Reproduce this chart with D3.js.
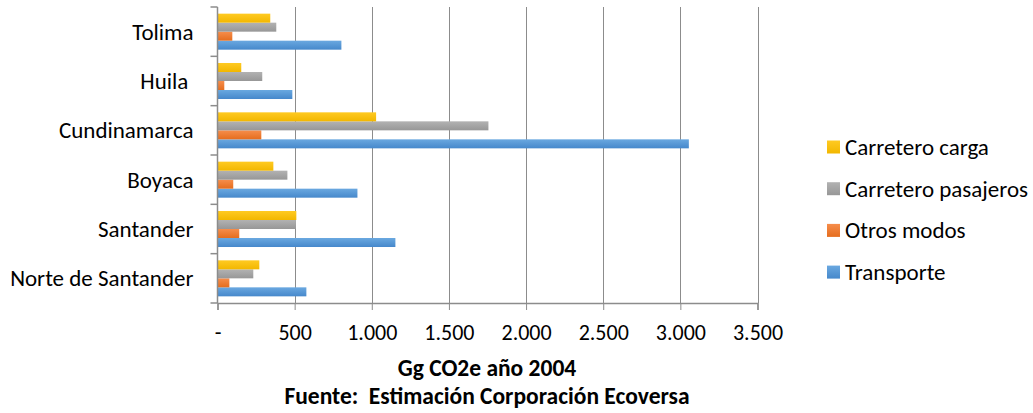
<!DOCTYPE html>
<html><head><meta charset="utf-8">
<script src="https://cdn.jsdelivr.net/npm/d3@7"></script>
<style>body{margin:0;background:#fff}svg{display:block}text{font-family:Carlito,Calibri,Lato,"Open Sans",sans-serif;fill:#000}</style>
</head><body><svg id="c" width="1033" height="413"></svg>
<script>
const categories = ["Norte de Santander","Santander","Boyaca","Cundinamarca","Huila ","Tolima"];
const seriesNames = ["Transporte","Otros modos","Carretero pasajeros","Carretero carga"];
const transporte = [576, 1153, 907, 3055, 485, 803];
const otrosModos = [77, 141, 102, 284, 44, 96];
const carreteroPasajeros = [232, 508, 453, 1756, 290, 381];
const carreteroCarga = [271, 511, 362, 1028, 154, 342];
const xTicks = [0,500,1000,1500,2000,2500,3000,3500];
const xTickLabels = ["-","500","1.000","1.500","2.000","2.500","3.000","3.500"];
const colors = [["#6aa8e0","#4688cb"],["#f68d4b","#e56d1e"],["#b2b2b2","#979797"],["#ffca22","#f2b700"]];
const seriesVals = [transporte, otrosModos, carreteroPasajeros, carreteroCarga];

const svg = d3.select("#c");
const L = 217.5, R = 757.5, T = 7, B = 303;
const x = d3.scaleLinear().domain([0,3500]).range([L,R]);
const y = d3.scaleBand().domain(categories.slice().reverse()).range([T,B]).paddingInner(0.27).paddingOuter(0.135);
const y1 = d3.scaleBand().domain(seriesNames.slice().reverse()).range([0,y.bandwidth()]);

const defs = svg.append("defs");
colors.forEach((c,i)=>{
  const g = defs.append("linearGradient").attr("id","g"+i).attr("x1",0).attr("y1",0).attr("x2",0).attr("y2",1);
  g.append("stop").attr("offset","0%").attr("stop-color",c[0]);
  g.append("stop").attr("offset","100%").attr("stop-color",c[1]);
});

// gridlines
svg.append("g").selectAll("line").data(xTicks.slice(1)).join("line")
  .attr("x1",d=>Math.round(x(d))+0.5).attr("x2",d=>Math.round(x(d))+0.5)
  .attr("y1",T).attr("y2",B).attr("stroke","#8c8c8c").attr("stroke-width",1);

// bars
categories.forEach((cat,ci)=>{
  seriesVals.forEach((vals,si)=>{
    svg.append("rect")
      .attr("x",x(0)).attr("y",y(cat)+y1(seriesNames[si]))
      .attr("width",x(vals[ci])-x(0)).attr("height",y1.bandwidth())
      .attr("fill","url(#g"+si+")");
  });
});

// x axis
const xa = svg.append("g").attr("transform",`translate(0,${B})`)
  .call(d3.axisBottom(x).tickValues(xTicks).tickFormat((d,i)=>xTickLabels[i]).tickSize(7).tickPadding(14));
xa.select(".domain").attr("stroke","#8c8c8c").attr("stroke-width",1.5);
xa.selectAll(".tick line").attr("stroke","#8c8c8c");
xa.selectAll("text").attr("font-size","22px").style("font-family","Carlito,Calibri,Lato,sans-serif");

// y axis
const ya = svg.append("g").attr("transform",`translate(${L},0)`);
ya.append("line").attr("x1",0).attr("x2",0).attr("y1",T).attr("y2",B).attr("stroke","#8c8c8c").attr("stroke-width",1.5);
const bounds = d3.range(categories.length+1).map(i=>T+(B-T)*i/categories.length);
ya.selectAll("line.t").data(bounds).join("line").attr("class","t")
  .attr("x1",-7).attr("x2",0).attr("y1",d=>d).attr("y2",d=>d).attr("stroke","#8c8c8c").attr("stroke-width",1.5);
ya.selectAll("text").data(categories).join("text")
  .attr("x",-24).attr("y",d=>y(d)+y.bandwidth()/2).attr("dy","0.35em")
  .attr("xml:space","preserve").style("white-space","pre")
  .attr("text-anchor","end").attr("font-size","23px").text(d=>d);

// titles
svg.append("text").attr("x",487).attr("y",376).attr("text-anchor","middle")
  .attr("font-size","23.5px").attr("font-weight","bold").text("Gg CO2e año 2004");
svg.append("text").attr("x",487).attr("y",404).attr("text-anchor","middle")
  .attr("xml:space","preserve").style("white-space","pre")
  .attr("font-size","23.5px").attr("font-weight","bold").text("Fuente:  Estimación Corporación Ecoversa");

// legend
const legendOrder = [3,2,1,0];
const lg = svg.append("g");
legendOrder.forEach((si,i)=>{
  const cy = 147 + i*41.7;
  lg.append("rect").attr("x",827).attr("y",cy-6.5).attr("width",13).attr("height",13).attr("fill","url(#g"+si+")");
  lg.append("text").attr("x",845).attr("y",cy).attr("dy","0.35em").attr("font-size","23px").text(seriesNames[si]);
});
</script></body></html>
